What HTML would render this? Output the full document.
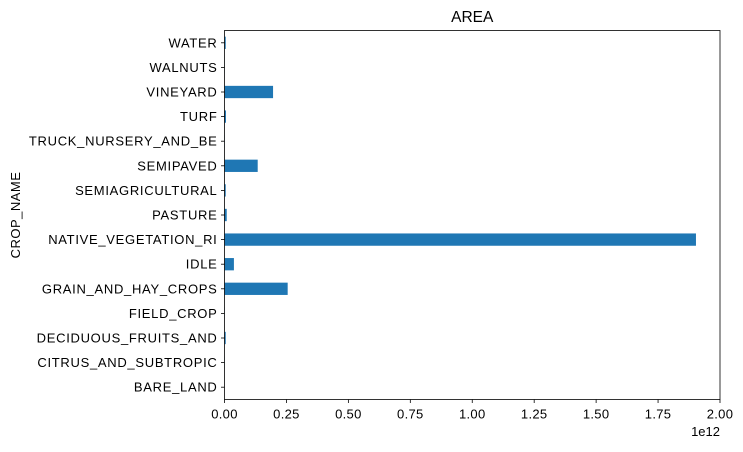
<!DOCTYPE html>
<html><head><meta charset="utf-8"><style>
body{margin:0;background:#fff;}
svg text{font-family:"Liberation Sans",Arial,sans-serif;fill:#000;}
</style></head><body>
<svg id="chart" width="743" height="447"></svg>
<script>
const categories=["BARE_LAND","CITRUS_AND_SUBTROPIC","DECIDUOUS_FRUITS_AND","FIELD_CROP","GRAIN_AND_HAY_CROPS","IDLE","NATIVE_VEGETATION_RI","PASTURE","SEMIAGRICULTURAL","SEMIPAVED","TRUCK_NURSERY_AND_BE","TURF","VINEYARD","WALNUTS","WATER"];
const areaValues=[0,0.0005,0.005,0.0005,0.255,0.038,1.903,0.009,0.005,0.134,0.0005,0.006,0.196,0.0005,0.005];
const xTicks=[0,0.25,0.5,0.75,1.0,1.25,1.5,1.75,2.0];
const xTickLabels=["0.00","0.25","0.50","0.75","1.00","1.25","1.50","1.75","2.00"];
const ns="http://www.w3.org/2000/svg";
const svg=document.getElementById('chart');
const L=224.5,R=720,T=30.5,B=399.5,xMax=2.0;
const n=categories.length;
const xs=v=>L+(v/xMax)*(R-L);
const step=(B-T)/n;
const ys=i=>B-step*(i+0.5);
function mk(tag,a){const e=document.createElementNS(ns,tag);for(const k in a)e.setAttribute(k,a[k]);svg.appendChild(e);return e;}
categories.forEach((c,i)=>{
  const b=mk('rect',{x:L,y:ys(i)-step*0.25,width:Math.max(0,xs(areaValues[i])-L),height:step*0.5,fill:'#1f77b4'});
  
  
  mk('line',{x1:L-3.5,x2:L,y1:ys(i),y2:ys(i),stroke:'#000','stroke-width':0.8});
  const t=mk('text',{x:L-7,y:ys(i)+4.5,'text-anchor':'end','font-size':13,'letter-spacing':'0.7'});
  t.textContent=c;
  
  
});
xTicks.forEach((v,i)=>{
  mk('line',{x1:xs(v),x2:xs(v),y1:B,y2:B+3.5,stroke:'#000','stroke-width':0.8});
  const t=mk('text',{x:xs(v),y:B+19,'text-anchor':'middle','font-size':13,'letter-spacing':'0.3'});
  t.textContent=xTickLabels[i];
  
  
});
const f=mk('rect',{x:L,y:T,width:R-L,height:B-T,fill:'none',stroke:'#000','stroke-width':0.8});


const ti=mk('text',{x:(L+R)/2,y:22,'text-anchor':'middle','font-size':15.5});
ti.textContent='AREA';


const off=mk('text',{x:R,y:436,'text-anchor':'end','font-size':13});
off.textContent='1e12';


const yl=mk('text',{x:0,y:0,'text-anchor':'middle','font-size':13,'letter-spacing':'0.5',transform:'translate(20,'+((T+B)/2)+') rotate(-90)'});
yl.textContent='CROP_NAME';


</script>
</body></html>
